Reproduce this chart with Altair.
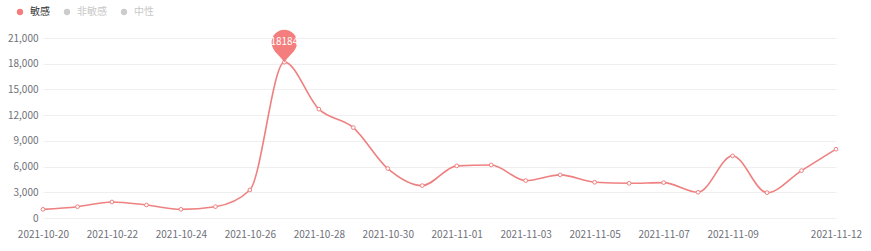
import altair as alt
import pandas as pd

dates = ["2021-10-20", "2021-10-21", "2021-10-22", "2021-10-23", "2021-10-24", "2021-10-25",
         "2021-10-26", "2021-10-27", "2021-10-28", "2021-10-29", "2021-10-30", "2021-10-31",
         "2021-11-01", "2021-11-02", "2021-11-03", "2021-11-04", "2021-11-05", "2021-11-06",
         "2021-11-07", "2021-11-08", "2021-11-09", "2021-11-10", "2021-11-11", "2021-11-12"]
values = [1010, 1320, 1870, 1520, 1010, 1320, 3270, 18184, 12700, 10550, 5770, 3780,
          6080, 6190, 4360, 5030, 4170, 4050, 4130, 3000, 7250, 2960, 5530, 8030]
series_names = ["敏感", "非敏感", "中性"]
series_colors = ["#f47e7e", "#cccccc", "#cccccc"]
shown_labels = ["2021-10-20", "2021-10-22", "2021-10-24", "2021-10-26", "2021-10-28",
                "2021-10-30", "2021-11-01", "2021-11-03", "2021-11-05", "2021-11-07",
                "2021-11-09", "2021-11-12"]
y_ticks = [0, 3000, 6000, 9000, 12000, 15000, 18000, 21000]

df = pd.DataFrame({"date": dates, "value": values, "series": series_names[0]})
vmax = max(values)
df_max = df[df["value"] == vmax]

FONT = "Noto Sans CJK SC"

x = alt.X("date:O", scale=alt.Scale(type="point", padding=0),
          axis=alt.Axis(values=shown_labels, labelAngle=0, title=None, domain=False,
                        ticks=False, grid=False, labelFontSize=10, labelFont=FONT,
                        labelColor="#6e7079", labelPadding=11))
y = alt.Y("value:Q", scale=alt.Scale(domain=[0, 21000], nice=False),
          axis=alt.Axis(values=y_ticks, format=",d", title=None, domain=False, ticks=False,
                        grid=True, gridColor="#efefef", gridWidth=1, labelFontSize=10,
                        labelFont=FONT, labelColor="#6e7079", labelPadding=5))

base = alt.Chart(df).encode(x=x, y=y)

line = base.mark_line(interpolate="monotone", color="#ef8080", strokeWidth=1.6)
pts = base.mark_point(filled=False, fill="white", fillOpacity=1, color="#ef8080",
                      size=14, strokeWidth=1, opacity=1)

pin_path = "M0,0 C-0.25,-0.45 -1,-0.85 -1,-1.55 A1,1 0 1 1 1,-1.55 C1,-0.85 0.25,-0.45 0,0 Z"
pin = alt.Chart(df_max).mark_point(shape=pin_path, size=650, filled=True, opacity=1,
                                   strokeWidth=0).encode(
    x=x, y=y,
    fill=alt.Fill("series:N",
                  scale=alt.Scale(domain=series_names, range=series_colors),
                  legend=alt.Legend(orient="none", legendX=-28, legendY=-31,
                                    direction="horizontal", title=None,
                                    symbolType="circle", symbolSize=40,
                                    symbolStrokeWidth=0, labelFontSize=10,
                                    labelFont=FONT, labelOffset=5, columnPadding=12,
                                    padding=0,
                                    labelColor=alt.ExprRef(
                                        expr="datum.label == '敏感' ? '#333333' : '#c8c8c8'"))))
pin_text = alt.Chart(df_max).mark_text(color="white", fontSize=10, font=FONT, dy=-20,
                                       baseline="middle", align="center").encode(
    x=x, y=y, text=alt.Text("value:Q", format="d"))

chart = alt.layer(line, pts, pin, pin_text).properties(
    width=793, height=180,
    autosize=alt.AutoSizeParams(type="none"),
    padding={"left": 43, "top": 38, "right": 35, "bottom": 33},
).configure(background="white").configure_view(stroke=None)

chart.save("out.html", embed_options={"renderer": "svg", "actions": False})
